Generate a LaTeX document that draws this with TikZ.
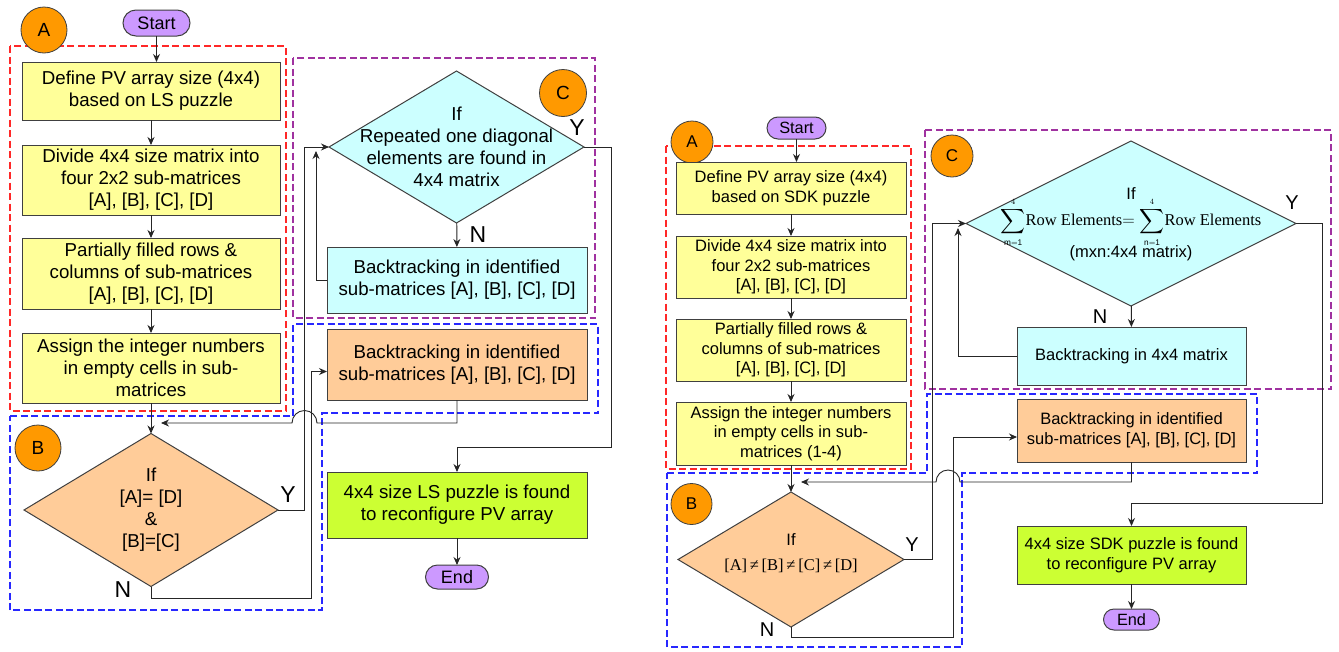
\documentclass[tikz,border=0pt]{standalone}
\usepackage{amsmath}
\usepackage{fontspec}
\setmainfont{Liberation Sans}
\newfontfamily\tnr{Liberation Serif}
\usetikzlibrary{shapes.geometric,arrows.meta,calc}
\definecolor{yel}{RGB}{255,255,153}
\definecolor{peach}{RGB}{255,204,153}
\definecolor{cyn}{RGB}{204,255,255}
\definecolor{lime}{RGB}{204,255,51}
\definecolor{lav}{RGB}{204,153,255}
\definecolor{orng}{RGB}{255,153,0}
\definecolor{rdash}{RGB}{255,40,40}
\definecolor{pdash}{RGB}{160,50,160}
\definecolor{bdash}{RGB}{40,40,255}
\newcommand\szL{\fontsize{18.7}{22}\selectfont}
\newcommand\szR{\fontsize{16.5}{19.7}\selectfont}
\begin{document}
\begin{tikzpicture}[x=1pt,y=-1pt,line join=miter,
  box/.style={draw=black!75,line width=1pt,rectangle,inner sep=0pt,outer sep=0pt,align=center},
  dia/.style={draw=black!75,line width=1pt,diamond,inner sep=0pt,outer sep=0pt},
  term/.style={draw=black!75,line width=1pt,fill=lav,rectangle,inner sep=0pt,outer sep=0pt},
  tag/.style={circle,draw=black!75,line width=0.8pt,fill=orng,inner sep=0pt,outer sep=0pt},
  conn/.style={draw=black!85,line width=0.9pt},
  arr/.style={conn,-{Stealth[length=8pt,width=7pt]}},
  ynL/.style={inner sep=0pt,font=\fontsize{23}{23}\selectfont},
  ynR/.style={inner sep=0pt,font=\fontsize{20}{20}\selectfont},
  reg/.style={line width=1.1pt,dash pattern=on 7pt off 3.5pt},
  txtL/.style={align=center,inner sep=0pt,font=\szL},
  txtR/.style={align=center,inner sep=0pt,font=\szR}]
\useasboundingbox[fill=white] (0,0) rectangle (1339,651);

% ---------- regions (left) ----------
\draw[reg,draw=rdash] (10,46) rectangle (286,411);
\draw[reg,draw=pdash] (293,58) rectangle (595,318);
\draw[reg,draw=bdash] (10,416) -- (293,416) -- (293,324) -- (598,324) -- (598,413) -- (322,413) -- (322,610) -- (10,610) -- cycle;
% ---------- regions (right) ----------
\draw[reg,draw=rdash] (666,146) rectangle (911,469);
\draw[reg,draw=pdash] (925,130) rectangle (1331,389);
\draw[reg,draw=bdash] (667,473) -- (927,473) -- (927,394) -- (1257,394) -- (1257,473) -- (962,473) -- (962,647) -- (667,647) -- cycle;

% ================= LEFT FLOWCHART =================
\node[term,rounded corners=13pt,minimum width=67pt,minimum height=26pt,font=\fontsize{18}{18}\selectfont] (stL) at (156.5,23) {Start};
\node[tag,minimum size=46pt,font=\fontsize{19}{19}\selectfont] (cAL) at (44,30) {A};
\node[box,fill=yel,minimum width=258pt,minimum height=58pt,font=\szL] (L1) at (151,91) {Define PV array size (4x4)\\based on LS puzzle};
\node[box,fill=yel,minimum width=258pt,minimum height=70pt,font=\szL] (L2) at (151,180) {Divide 4x4 size matrix into\\four 2x2 sub-matrices\\{}[A], [B], [C], [D]};
\node[box,fill=yel,minimum width=258pt,minimum height=71pt,font=\szL] (L3) at (151,273.5) {Partially filled rows \&\\columns of sub-matrices\\{}[A], [B], [C], [D]};
\node[box,fill=yel,minimum width=258pt,minimum height=70pt,font=\szL] (L4) at (151,368) {Assign the integer numbers\\in empty cells in sub-\\matrices};
\node[tag,minimum size=46pt,font=\fontsize{19}{19}\selectfont] (cBL) at (38,448) {B};
\node[dia,fill=peach,minimum width=254pt,minimum height=153pt] (dBL) at (151,510) {};
\node[txtL] (tBL) at (151,510) {If\\{}[A]= [D]\\\&\\{}[B]=[C]};
\node[dia,fill=cyn,minimum width=255pt,minimum height=152pt] (dCL) at (456.5,147) {};
\node[txtL] (tCL) at (456.5,147) {If\\Repeated one diagonal\\elements are found in\\4x4 matrix};
\node[tag,minimum size=47pt,font=\fontsize{19}{19}\selectfont] (cCL) at (563,93) {C};
\node[box,fill=cyn,minimum width=260pt,minimum height=66pt,font=\szL] (cyL) at (457,280) {Backtracking in identified\\sub-matrices [A], [B], [C], [D]};
\node[box,fill=peach,minimum width=260pt,minimum height=71pt,font=\szL] (orL) at (457,364.5) {Backtracking in identified\\sub-matrices [A], [B], [C], [D]};
\node[box,fill=lime,minimum width=260pt,minimum height=66pt,font=\szL] (grL) at (457,505) {4x4 size LS puzzle is found\\to reconfigure PV array};
\node[term,rounded corners=12pt,minimum width=63pt,minimum height=24pt,font=\fontsize{18}{18}\selectfont] (enL) at (457,577) {End};
\node[ynL] (yBL) at (288,495) {Y};
\node[ynL] (nBL) at (123,590) {N};
\node[ynL] (yCL) at (577,128) {Y};
\node[ynL] (nCL) at (478,235) {N};
\coordinate (hopL) at (317,423);
\coordinate (tipL) at (161,423);

\draw[arr] (stL.south) -- (stL.south |- L1.north);
\draw[arr] (L1) -- (L2);
\draw[arr] (L2) -- (L3);
\draw[arr] (L3) -- (L4);
\draw[arr] (L4) -- (dBL);
\draw[arr] (dBL.east) -- ++(26,0) |- (dCL.west);
\draw[arr] (dCL) -- (cyL);
\draw[arr] (cyL.west) -| ($(dCL.west)+(-13,4)$);
\draw[arr] (dCL.east) -- ++(27,0) |- ($(grL.north)+(0,-25)$) -- (grL.north);
\draw[arr] (dBL.south) -- ++(0,12) -| ($(orL.west)+(-16,7)$) -- ($(orL.west)+(0,7)$);
\draw[arr] (orL.south) -- ++(0,23) -- (hopL) arc[start angle=0,end angle=180,radius=12.5pt] -- (tipL);
\draw[arr] (grL) -- (enL);

% ================= RIGHT FLOWCHART =================
\node[term,rounded corners=11pt,minimum width=59pt,minimum height=22pt,font=\fontsize{16.3}{16.3}\selectfont] (stR) at (796.5,128) {Start};
\node[tag,minimum size=42pt,font=\fontsize{17}{17}\selectfont] (cAR) at (692,142) {A};
\node[box,fill=yel,minimum width=230pt,minimum height=52pt,font=\szR] (R1) at (791,188) {Define PV array size (4x4)\\based on SDK puzzle};
\node[box,fill=yel,minimum width=230pt,minimum height=62pt,font=\szR] (R2) at (791,267) {Divide 4x4 size matrix into\\four 2x2 sub-matrices\\{}[A], [B], [C], [D]};
\node[box,fill=yel,minimum width=230pt,minimum height=62pt,font=\szR] (R3) at (791,350) {Partially filled rows \&\\columns of sub-matrices\\{}[A], [B], [C], [D]};
\node[box,fill=yel,minimum width=230pt,minimum height=63pt,font=\szR] (R4) at (791,433.5) {Assign the integer numbers\\in empty cells in sub-\\matrices (1-4)};
\node[tag,minimum size=41pt,font=\fontsize{17}{17}\selectfont] (cBR) at (691.5,504) {B};
\node[dia,fill=peach,minimum width=226pt,minimum height=135pt] (dBR) at (791,559.5) {};
\node[txtR] (tBR) at (791,553) {If\\[5pt]{\tnr [A]\,≠\,[B]\,≠\,[C]\,≠\,[D]}};
\node[tag,minimum size=42pt,font=\fontsize{17}{17}\selectfont] (cCR) at (952,156) {C};
\node[dia,fill=cyn,minimum width=330pt,minimum height=165pt] (dCR) at (1131,223.5) {};
\node[txtR] (tCR) at (1131,224) {If\\[7pt]\smash{$\displaystyle\sum_{\scriptscriptstyle\mathrm{m=1}}^{\scriptscriptstyle 4}${\tnr Row Elements}$=\displaystyle\sum_{\scriptscriptstyle\mathrm{n=1}}^{\scriptscriptstyle 4}${\tnr Row Elements}}\\[12pt](mxn:4x4 matrix)};
\node[box,fill=cyn,minimum width=229pt,minimum height=58pt,font=\szR] (cyR) at (1131.5,356) {Backtracking in 4x4 matrix};
\node[box,fill=peach,minimum width=229pt,minimum height=63pt,font=\szR] (orR) at (1131.5,430.5) {Backtracking in identified\\sub-matrices [A], [B], [C], [D]};
\node[box,fill=lime,minimum width=229pt,minimum height=58pt,font=\szR] (grR) at (1131.5,555) {4x4 size SDK puzzle is found\\to reconfigure PV array};
\node[term,rounded corners=10.5pt,minimum width=56pt,minimum height=21pt,font=\fontsize{16.3}{16.3}\selectfont] (enR) at (1131.5,619.5) {End};
\node[ynR] (yBR) at (912,545) {Y};
\node[ynR] (nBR) at (767,630) {N};
\node[ynR] (yCR) at (1292,203) {Y};
\node[ynR] (nCR) at (1100,317) {N};
\coordinate (hopR) at (960,482);
\coordinate (tipR) at (801,482);

\draw[arr] (stR.south) -- (stR.south |- R1.north);
\draw[arr] (R1) -- (R2);
\draw[arr] (R2) -- (R3);
\draw[arr] (R3) -- (R4);
\draw[arr] (R4) -- (dBR);
\draw[arr] (dBR.east) -- ++(28,0) |- (dCR.west);
\draw[arr] (dCR) -- (cyR);
\draw[arr] (cyR.west) -| ($(dCR.west)+(-8,4.5)$);
\draw[arr] (dCR.east) -- ++(26,0) |- ($(grR.north)+(0,-23)$) -- (grR.north);
\draw[arr] (dBR.south) -- ++(0,10) -| ($(orR.west)+(-64,6.5)$) -- ($(orR.west)+(0,6.5)$);
\draw[arr] (orR.south) -- ++(0,20) -- (hopR) arc[start angle=0,end angle=180,radius=12pt] -- (tipR);
\draw[arr] (grR) -- (enR);
\end{tikzpicture}
\end{document}
